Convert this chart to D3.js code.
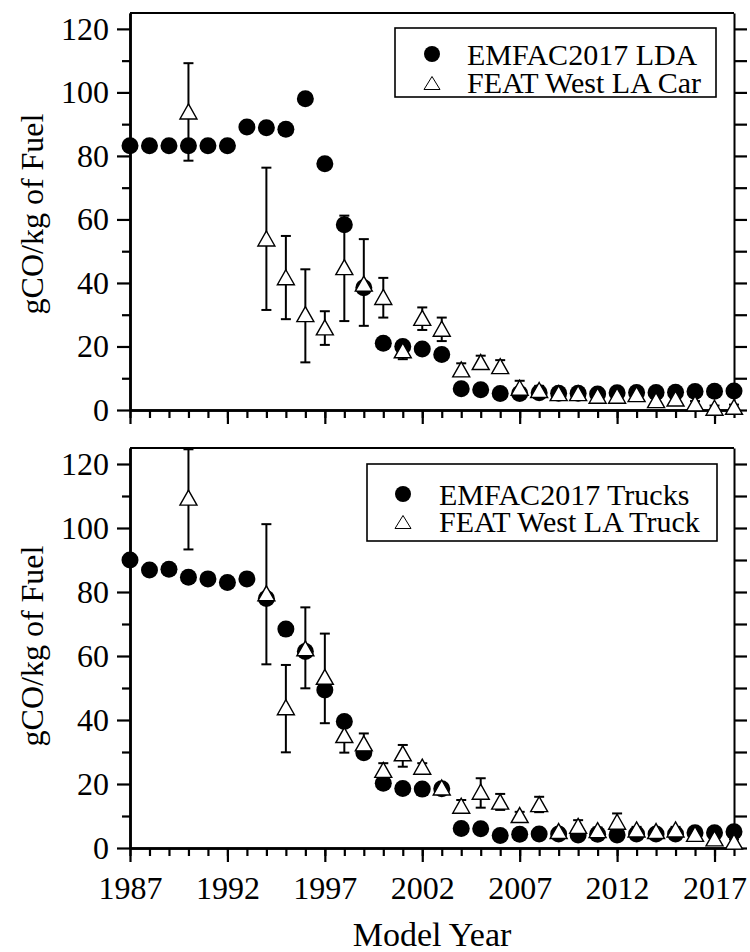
<!DOCTYPE html>
<html>
<head>
<meta charset="utf-8">
<script src="https://cdn.jsdelivr.net/npm/d3@7"></script>
<style>
  html, body { margin: 0; padding: 0; background: #fff; }
  svg text { font-family: "Liberation Serif", "Times New Roman", serif; fill: #000; }
</style>
</head>
<body>
<div id="chart"></div>
<script>
/* ── Data ───────────────────────────────────────────────── */
const years = [1987, 1988, 1989, 1990, 1991, 1992, 1993, 1994, 1995, 1996, 1997,
  1998, 1999, 2000, 2001, 2002, 2003, 2004, 2005, 2006, 2007, 2008, 2009, 2010,
  2011, 2012, 2013, 2014, 2015, 2016, 2017, 2018];

// top panel: EMFAC2017 LDA (one value per year above)
const emfacLda = [83.2, 83.2, 83.2, 83.2, 83.2, 83.2, 89.1, 88.9, 88.4, 98.0, 77.5,
  58.3, 38.5, 21.0, 20.0, 19.2, 17.5, 6.7, 6.4, 5.2, 5.2, 5.4, 5.3, 5.3,
  5.0, 5.4, 5.5, 5.5, 5.6, 5.8, 5.9, 6.0];

// top panel: FEAT West LA Car
const featCarYears = [1990, 1994, 1995, 1996, 1997, 1998, 1999, 2000, 2001, 2002, 2003,
  2004, 2005, 2006, 2007, 2008, 2009, 2010, 2011, 2012, 2013, 2014, 2015, 2016, 2017, 2018];
const featCar   = [94.0, 54.0, 41.8, 30.2, 26.0, 45.0, 39.8, 35.6, 18.8, 29.0, 25.6,
  12.8, 15.1, 13.8, 7.0, 6.3, 5.3, 5.3, 4.5, 4.5, 5.0, 3.1, 3.6, 2.1, 0.7, 1.0];
const featCarLo = [78.5, 31.5, 28.6, 15.0, 20.5, 28.0, 26.5, 29.1, 16.0, 25.2, 21.7,
  10.8, 12.9, 11.8, 5.0, 5.0, 4.5, 4.5, 3.8, 3.8, 4.3, 2.4, 2.9, 1.4, 0.0, 0.3];
const featCarHi = [109.2, 76.3, 54.8, 44.3, 31.1, 61.2, 53.8, 41.6, 20.5, 32.3, 29.1,
  14.7, 17.1, 15.7, 9.2, 7.6, 6.0, 6.0, 5.2, 5.2, 5.7, 3.8, 4.3, 2.8, 1.4, 1.7];

// bottom panel: EMFAC2017 Trucks
const emfacTrucks = [90.0, 86.9, 87.1, 84.6, 84.1, 83.0, 84.1, 78.0, 68.4, 61.4, 49.4,
  39.5, 29.8, 20.2, 18.6, 18.4, 18.5, 6.1, 6.0, 3.9, 4.3, 4.4, 4.4, 4.1,
  4.3, 4.1, 4.4, 4.4, 4.4, 4.8, 4.8, 5.1];

// bottom panel: FEAT West LA Truck
const featTruckYears = featCarYears;
const featTruck   = [109.5, 79.6, 44.0, 62.4, 53.5, 35.3, 32.7, 24.4, 29.6, 25.4, 18.9,
  13.2, 17.6, 14.5, 10.3, 13.7, 5.3, 6.9, 5.6, 8.2, 5.8, 5.3, 5.8, 4.4, 3.0, 2.0];
const featTruckLo = [93.3, 57.4, 29.9, 49.9, 39.0, 29.8, 29.5, 22.0, 25.4, 23.3, 17.8,
  11.2, 12.6, 11.9, 9.3, 11.2, 4.5, 5.5, 4.8, 5.6, 5.0, 4.5, 5.0, 3.6, 2.3, 1.3];
const featTruckHi = [124.6, 101.2, 57.2, 75.2, 67.0, 39.5, 35.8, 26.5, 32.2, 26.5, 19.6,
  15.0, 21.8, 16.9, 11.3, 16.0, 6.1, 8.7, 6.4, 10.8, 6.6, 6.1, 6.6, 5.2, 3.7, 2.7];

// ticks
const yMajor = [0, 20, 40, 60, 80, 100, 120];
const yMinor = [10, 30, 50, 70, 90, 110];
const yRight = [0, 10, 20, 30, 40, 50, 60, 70, 80, 90, 100, 110, 120];
const xMajor = [1987, 1992, 1997, 2002, 2007, 2012, 2017];

/* ── Layout ─────────────────────────────────────────────── */
const W = 750, H = 952;
const left = 130, right = 734;
const FONT = 32;

const svg = d3.select('#chart').append('svg')
  .attr('width', W).attr('height', H)
  .attr('viewBox', `0 0 ${W} ${H}`);

const x = d3.scaleLinear().domain([1987, 2018]).range([left, right]);

const triPath = (w, h) => `M0,${-h / 2}L${w / 2},${h / 2}L${-w / 2},${h / 2}Z`;

function panel(cfg) {
  const y = d3.scaleLinear().domain([0, 125]).range([cfg.bottom, cfg.top]);
  const g = svg.append('g');

  const axisStyle = sel => sel
    .call(a => a.select('.domain').attr('stroke', '#000').attr('stroke-width', 2.5))
    .call(a => a.selectAll('.tick line').attr('stroke', '#000').attr('stroke-width', 2.2))
    .call(a => a.selectAll('.tick text')
      .attr('font-size', FONT)
      .attr('font-family', '"Liberation Serif", "Times New Roman", serif'));

  // frame top line
  g.append('line')
    .attr('x1', left).attr('x2', right)
    .attr('y1', cfg.top).attr('y2', cfg.top)
    .attr('stroke', '#000').attr('stroke-width', 2);

  // left axis, major + minor
  g.append('g').attr('transform', `translate(${left},0)`)
    .call(d3.axisLeft(y).tickValues(yMajor).tickSize(13).tickPadding(8).tickSizeOuter(0))
    .call(axisStyle);
  g.append('g').attr('transform', `translate(${left},0)`)
    .call(d3.axisLeft(y).tickValues(yMinor).tickSize(8).tickFormat('').tickSizeOuter(0))
    .call(axisStyle);

  // right axis
  g.append('g').attr('transform', `translate(${right},0)`)
    .call(d3.axisRight(y).tickValues(yRight).tickSize(13).tickFormat('').tickSizeOuter(0))
    .call(axisStyle)
    .call(a => a.select('.domain').attr('stroke-width', 2));

  // bottom axis, minor years then major
  g.append('g').attr('transform', `translate(0,${cfg.bottom})`)
    .call(d3.axisBottom(x).tickValues(years).tickSize(8).tickFormat('').tickSizeOuter(0))
    .call(axisStyle);
  const xb = g.append('g').attr('transform', `translate(0,${cfg.bottom})`)
    .call(d3.axisBottom(x).tickValues(xMajor).tickSize(14).tickSizeOuter(0)
      .tickFormat(cfg.xLabels ? d3.format('d') : ''))
    .call(axisStyle);
  xb.selectAll('.tick text').attr('dy', 0).attr('y', 51);

  // y title
  g.append('text')
    .attr('transform', `translate(43,${cfg.titleY}) rotate(-90)`)
    .attr('text-anchor', 'middle')
    .attr('font-size', FONT)
    .text('gCO/kg of Fuel');

  // error bars
  const eb = g.append('g').attr('stroke', '#000').attr('stroke-width', 2);
  cfg.tYears.forEach((yr, i) => {
    const cx = x(yr);
    eb.append('line').attr('x1', cx).attr('x2', cx)
      .attr('y1', y(cfg.tLo[i])).attr('y2', y(cfg.tHi[i]));
    [cfg.tLo[i], cfg.tHi[i]].forEach(v => {
      eb.append('line').attr('x1', cx - 5).attr('x2', cx + 5)
        .attr('y1', y(v)).attr('y2', y(v));
    });
  });

  // EMFAC circles
  g.append('g').selectAll('circle')
    .data(years.map((yr, i) => ({ yr, v: cfg.circles[i] })))
    .join('circle')
    .attr('cx', d => x(d.yr))
    .attr('cy', d => y(d.v))
    .attr('r', 8.5)
    .attr('fill', '#000');

  // FEAT triangles
  g.append('g').selectAll('path')
    .data(cfg.tYears.map((yr, i) => ({ yr, v: cfg.tri[i] })))
    .join('path')
    .attr('d', triPath(17, 15))
    .attr('transform', d => `translate(${x(d.yr)},${y(d.v)})`)
    .attr('fill', '#fff')
    .attr('stroke', '#000')
    .attr('stroke-width', 1.4);

  // legend
  const L = cfg.legend;
  g.append('rect')
    .attr('x', L.x0).attr('y', L.y0)
    .attr('width', L.x1 - L.x0).attr('height', L.y1 - L.y0)
    .attr('fill', '#fff').attr('stroke', '#000').attr('stroke-width', 1.6);
  g.append('circle').attr('cx', L.mx).attr('cy', L.r1 - 11).attr('r', 8).attr('fill', '#000');
  g.append('path').attr('d', triPath(16, 13))
    .attr('transform', `translate(${L.mx},${L.r2 - 10})`)
    .attr('fill', '#fff').attr('stroke', '#000').attr('stroke-width', 1);
  g.append('text').attr('x', L.tx).attr('y', L.r1).attr('font-size', 30).text(cfg.names[0]);
  g.append('text').attr('x', L.tx).attr('y', L.r2).attr('font-size', 30).text(cfg.names[1]);
}

panel({
  top: 13, bottom: 410, titleY: 214, xLabels: false,
  circles: emfacLda, tYears: featCarYears, tri: featCar, tLo: featCarLo, tHi: featCarHi,
  names: ['EMFAC2017 LDA', 'FEAT West LA Car'],
  legend: { x0: 395, x1: 716, y0: 28, y1: 97, mx: 432, tx: 467, r1: 65, r2: 93 }
});

panel({
  top: 448, bottom: 848, titleY: 646, xLabels: true,
  circles: emfacTrucks, tYears: featTruckYears, tri: featTruck, tLo: featTruckLo, tHi: featTruckHi,
  names: ['EMFAC2017 Trucks', 'FEAT West LA Truck'],
  legend: { x0: 367, x1: 717, y0: 464, y1: 541, mx: 403, tx: 439, r1: 505, r2: 532 }
});

svg.append('text')
  .attr('x', (left + right) / 2).attr('y', 946)
  .attr('text-anchor', 'middle')
  .attr('font-size', 34)
  .text('Model Year');
</script>
</body>
</html>
